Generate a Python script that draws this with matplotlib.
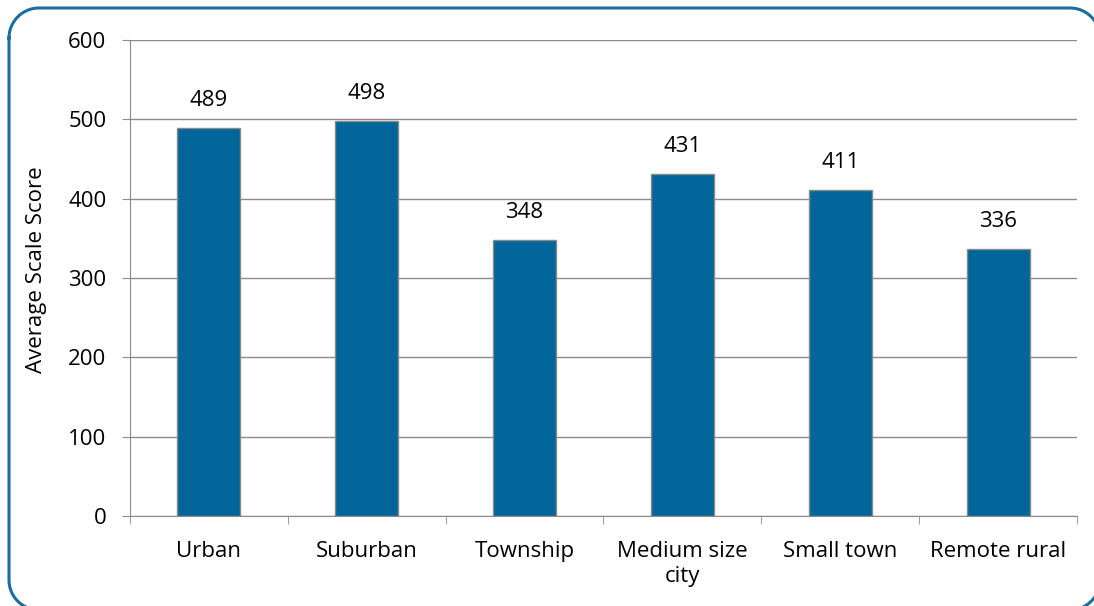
import matplotlib
matplotlib.use('Agg')
import matplotlib.pyplot as plt
import numpy as np

plt.rcParams['font.family'] = ['Open Sans', 'DejaVu Sans']

categories = ['Urban', 'Suburban', 'Township', 'Medium size\ncity', 'Small town', 'Remote rural']
scores = [489, 498, 348, 431, 411, 336]

fig = plt.figure(figsize=(10.94, 6.06), dpi=100)

# rounded frame drawn on a full-figure axes in pixel units (y downwards)
bg = fig.add_axes([0, 0, 1, 1], zorder=-1)
bg.set_xlim(0, 1094)
bg.set_ylim(606, 0)
bg.axis('off')
x0, x1, y0, y1, r = 9, 1100, 8, 610, 30
t = np.linspace(0, np.pi / 2, 30)
fx = np.concatenate([x0 + r - r*np.cos(t), x1 - r + r*np.sin(t),
                     x1 - r + r*np.cos(t), x0 + r - r*np.sin(t), [x0]])
fy = np.concatenate([y0 + r - r*np.sin(t), y0 + r - r*np.cos(t),
                     y1 - r + r*np.sin(t), y1 - r + r*np.cos(t), [y0 + r]])
bg.plot(fx, fy, color='#1B6D9E', lw=2.2, clip_on=False, solid_joinstyle='round')

ax = fig.add_axes([130/1094, 1-516/606, 947/1094, 476/606])
ax.patch.set_alpha(0)

fs = 16
x = np.arange(len(categories))
bars = ax.bar(x, scores, width=0.4, color='#02669A', edgecolor='#8a8a8a', linewidth=1, zorder=3)
for b, v in zip(bars, scores):
    ax.annotate(str(v), (b.get_x() + b.get_width()/2, v), xytext=(0, 20),
                textcoords='offset points', ha='center', va='center', fontsize=fs)

ax.set_xlim(-0.5, len(categories) - 0.5)
ax.set_ylim(0, 600)
ax.set_yticks(range(0, 601, 100))
ax.yaxis.grid(True, color='#8c8c8c', linewidth=1, zorder=0)
ax.set_xticks(x)
ax.set_xticklabels(categories, fontsize=fs, linespacing=1.25)
ax.set_xticks(np.arange(-0.5, len(categories)), minor=True)
ax.tick_params(axis='x', which='major', length=0, pad=18)
ax.tick_params(axis='x', which='minor', length=6, color='#8c8c8c', direction='out')
ax.tick_params(axis='y', length=6, color='#8c8c8c', labelsize=fs, pad=11)
fig.text(37/1094, 1-270/606, 'Average Scale Score', rotation=90, ha='center', va='center', fontsize=fs)
for s in ['top', 'right']:
    ax.spines[s].set_visible(False)
for s in ['left', 'bottom']:
    ax.spines[s].set_color('#8c8c8c')

fig.savefig('out.png', dpi=100)
